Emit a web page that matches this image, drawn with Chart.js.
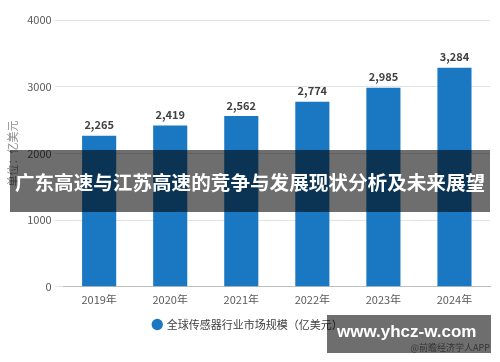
<!DOCTYPE html>
<html>
<head>
<meta charset="utf-8">
<script src="https://cdn.jsdelivr.net/npm/chart.js@4"></script>
<style>
  html, body { margin: 0; padding: 0; background: #fff; }
  #wrap { position: relative; width: 500px; height: 362px; font-family: "Noto Sans CJK SC", sans-serif; }
  #banner {
    position: absolute; left: 10px; top: 150px; width: 480px; height: 62px;
    background: rgba(0,0,0,0.57); color: #fff; font-weight: bold; font-size: 19.6px;
    display: flex; align-items: center; justify-content: center; white-space: nowrap; overflow: hidden;
  }
  #mark {
    position: absolute; left: 327px; top: 315px; width: 164px; height: 38px;
    background: rgba(0,0,0,0.57); white-space: nowrap;
  }
  #mark .url { position: absolute; left: 10px; top: 8px; color: #fff; font-size: 17px; font-weight: bold; font-family: "Liberation Sans", sans-serif; line-height: 1; }
  #mark .app { position: absolute; right: 1px; bottom: 1px; color: #333; font-size: 9px; line-height: 1; }
</style>
</head>
<body>
<div id="wrap">
  <canvas id="chart" width="500" height="362"></canvas>
  <div id="banner">广东高速与江苏高速的竞争与发展现状分析及未来展望</div>
  <div id="mark"><span class="url">www.yhcz-w.com</span><span class="app">@前瞻经济学人APP</span></div>
</div>
<script>
// 数据
const years = ['2019年', '2020年', '2021年', '2022年', '2023年', '2024年'];
const marketSize = [2265, 2419, 2562, 2774, 2985, 3284];
const yTicks = [0, 1000, 2000, 3000, 4000];

// 柱顶数值标签
const valueLabels = {
    id: 'valueLabels',
    afterDatasetsDraw(chart) {
        const ctx = chart.ctx;
        const meta = chart.getDatasetMeta(0);
        ctx.save();
        ctx.font = 'bold 11px "Noto Sans CJK SC", sans-serif';
        ctx.fillStyle = '#404040';
        ctx.textAlign = 'center';
        ctx.textBaseline = 'bottom';
        meta.data.forEach((bar, i) => {
            ctx.fillText(marketSize[i].toLocaleString('en-US'), bar.x, bar.y - 5);
        });
        ctx.restore();
    }
};

const ctx = document.getElementById('chart').getContext('2d');
new Chart(ctx, {
    type: 'bar',
    data: {
        labels: years,
        datasets: [{
            label: '全球传感器行业市场规模（亿美元）',
            data: marketSize,
            backgroundColor: '#1a78c2',
            categoryPercentage: 1,
            barPercentage: 0.48
        }]
    },
    options: {
        responsive: false,
        animation: false,
        layout: { padding: { left: 6, right: 10, top: 20, bottom: 22 } },
        scales: {
            x: {
                grid: { display: false },
                border: { color: '#bfbfbf' },
                ticks: { color: '#595959', font: { size: 11, family: '"Noto Sans CJK SC", sans-serif' }, padding: -2 }
            },
            y: {
                min: 0,
                max: 4000,
                afterBuildTicks(axis) { axis.ticks = yTicks.map(v => ({ value: v })); },
                border: { display: false },
                grid: { color: '#e3e3e3', tickLength: 9 },
                ticks: {
                    color: '#595959',
                    font: { size: 11, family: '"Noto Sans CJK SC", sans-serif' },
                    callback: v => String(v)
                },
                title: {
                    display: true,
                    text: '单位：亿美元',
                    color: '#8c8c8c',
                    font: { size: 11, family: '"Noto Sans CJK SC", sans-serif' },
                    padding: { top: 0, bottom: 5 }
                }
            }
        },
        plugins: {
            legend: {
                position: 'bottom',
                labels: {
                    usePointStyle: true,
                    pointStyle: 'circle',
                    boxWidth: 8,
                    boxHeight: 8,
                    color: '#404040',
                    font: { size: 11, family: '"Noto Sans CJK SC", sans-serif' },
                    padding: 15
                }
            },
            tooltip: { enabled: false }
        }
    },
    plugins: [valueLabels]
});
</script>
</body>
</html>
